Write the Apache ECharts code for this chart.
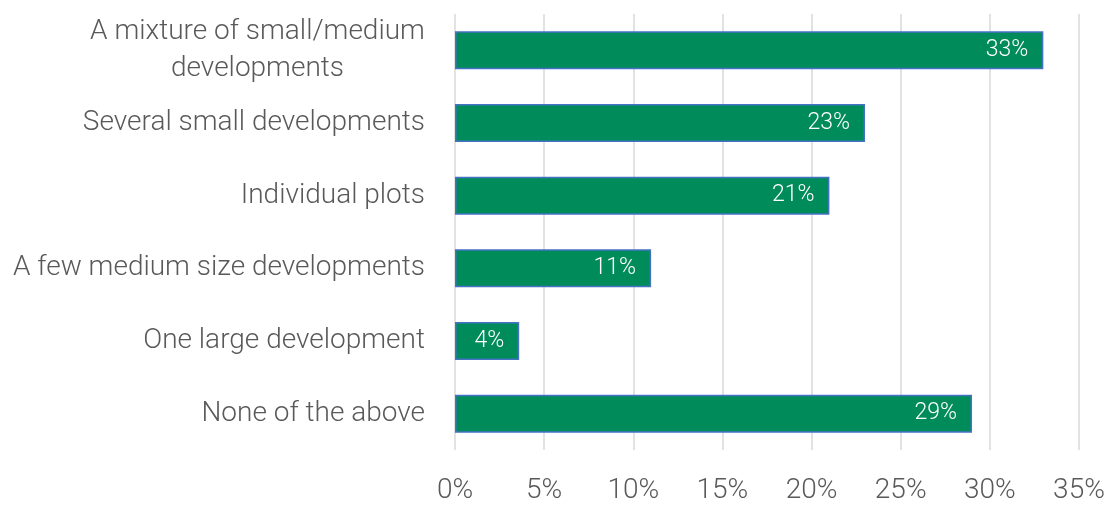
<!DOCTYPE html>
<html>
<head>
<meta charset="utf-8">
<script src="https://cdn.jsdelivr.net/npm/echarts@6/dist/echarts.min.js"></script>
<style>
  html, body { margin: 0; padding: 0; background: #fff; }
</style>
</head>
<body>
<div id="chart" style="width: 1114px; height: 505px"></div>
<script>
// categories, top to bottom as shown
const categories = [
  "A mixture of small/medium\ndevelopments",
  "Several small developments",
  "Individual plots",
  "A few medium size developments",
  "One large development",
  "None of the above"
];
// percent values, same order
const values = [33, 23, 21, 11, 3.6, 29];
const xTicks = [0, 5, 10, 15, 20, 25, 30, 35];

const labelFont = "300 28px Roboto";

// measure text so the wrapped label can be centred inside a right-aligned block
function textWidth(s) {
  const ctx = document.createElement("canvas").getContext("2d");
  ctx.font = labelFont;
  return ctx.measureText(s).width;
}

const chart = echarts.init(document.getElementById("chart"));

const option = {
  backgroundColor: "#ffffff",
  textStyle: { fontFamily: "Roboto", fontWeight: 300 },
  grid: { left: 455, right: 35, top: 14, bottom: 51 },
  xAxis: {
    type: "value",
    min: xTicks[0],
    max: xTicks[xTicks.length - 1],
    interval: 5,
    axisLine: { show: false },
    axisTick: { show: false },
    axisLabel: {
      formatter: "{value}%",
      color: "#595959",
      fontSize: 28,
      fontFamily: "Roboto",
      fontWeight: 300,
      margin: 27
    },
    splitLine: { lineStyle: { color: "#d9d9d9", width: 1.5 } }
  },
  yAxis: {
    type: "category",
    inverse: true,
    data: categories,
    axisLine: { show: false },
    axisTick: { show: false },
    axisLabel: {
      color: "#595959",
      fontSize: 28,
      fontFamily: "Roboto",
      fontWeight: 300,
      margin: 30,
      align: "right",
      lineHeight: 37,
      formatter: (v) => {
        if (v.indexOf("\n") < 0) return v;
        return v.split("\n").map((l) => "{c|" + l + "}").join("\n");
      },
      rich: {
        c: {
          width: Math.ceil(textWidth("A mixture of small/medium")),
          align: "center",
          color: "#595959",
          fontSize: 28,
          fontFamily: "Roboto",
          fontWeight: 300,
          lineHeight: 37
        }
      }
    }
  },
  series: [
    {
      type: "bar",
      data: values,
      barWidth: 38,
      itemStyle: { color: "#008c5a", borderColor: "#4472c4", borderWidth: 1.5 },
      label: {
        show: true,
        position: "insideRight",
        distance: 15,
        color: "#ffffff",
        fontSize: 23,
        fontFamily: "Roboto",
        fontWeight: 300,
        formatter: (p) => Math.round(p.value) + "%"
      },
      silent: true
    }
  ]
};

chart.setOption(option);
</script>
</body>
</html>
